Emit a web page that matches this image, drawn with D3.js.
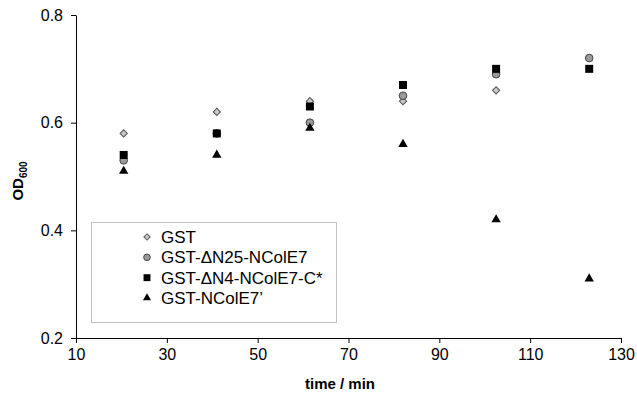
<!DOCTYPE html>
<html>
<head>
<meta charset="utf-8">
<script src="https://cdn.jsdelivr.net/npm/d3@7"></script>
<style>
  body { margin: 0; background: #fff; }
  text { font-family: "Liberation Sans", Arial, sans-serif; }
</style>
</head>
<body>
<svg width="637" height="398"></svg>
<script>
// sampling times (min) and OD600 readings per construct
const times = [20.5, 41, 61.5, 82, 102.5, 123];
const gst = [0.58, 0.62, 0.64, 0.64, 0.66, null];
const dN25 = [0.53, 0.58, 0.60, 0.65, 0.69, 0.72];
const dN4 = [0.54, 0.58, 0.63, 0.67, 0.70, 0.70];
const ncolE7 = [0.51, 0.54, 0.59, 0.56, 0.42, 0.31];

const seriesNames = ['GST', 'GST-\u0394N25-NColE7', 'GST-\u0394N4-NColE7-C*', 'GST-NColE7\u2019'];
const xTicks = [10, 30, 50, 70, 90, 110, 130];
const yTicks = [0.2, 0.4, 0.6, 0.8];

const margin = { top: 15, right: 16, bottom: 60, left: 76 };
const width = 637, height = 398;

const svg = d3.select('svg');
const x = d3.scaleLinear().domain([10, 130]).range([margin.left, width - margin.right]);
const y = d3.scaleLinear().domain([0.2, 0.8]).range([height - margin.bottom, margin.top]);

// marker styles, drawn in this order (later ones sit on top)
const markers = [
    { values: gst, type: d3.symbolSquare, size: 26, rotate: 45, fill: '#c8c8c8', stroke: '#555', sw: 1 },
    { values: dN25, type: d3.symbolCircle, size: 46, rotate: 0, fill: '#9a9a9a', stroke: '#444', sw: 1 },
    { values: dN4, type: d3.symbolSquare, size: 64, rotate: 0, fill: '#000', stroke: 'none', sw: 0 },
    { values: ncolE7, type: d3.symbolTriangle, size: 38, rotate: 0, fill: '#000', stroke: 'none', sw: 0 }
];

// axes
svg.append('g')
    .attr('transform', `translate(0,${y(0.2)})`)
    .call(d3.axisBottom(x).tickValues(xTicks).tickSize(5).tickSizeOuter(0).tickPadding(6))
    .call(g => g.selectAll('text').attr('font-size', 16).attr('fill', '#000'))
    .call(g => g.selectAll('line,path').attr('stroke', '#000'));

svg.append('g')
    .attr('transform', `translate(${x(10)},0)`)
    .call(d3.axisLeft(y).tickValues(yTicks).tickFormat(d3.format('.1f')).tickSize(5).tickSizeOuter(0).tickPadding(8))
    .call(g => g.selectAll('text').attr('font-size', 16).attr('fill', '#000'))
    .call(g => g.selectAll('line,path').attr('stroke', '#000'));

svg.append('text')
    .attr('x', 340).attr('y', 389)
    .attr('text-anchor', 'middle')
    .attr('font-size', 15).attr('font-weight', 'bold')
    .text('time / min');

const yl = svg.append('text')
    .attr('transform', 'translate(23,181) rotate(-90)')
    .attr('text-anchor', 'middle')
    .attr('font-size', 15).attr('font-weight', 'bold');
yl.append('tspan').text('OD');
yl.append('tspan').attr('font-size', 10).attr('dy', 4).text('600');

// points
markers.forEach(m => {
    const sym = d3.symbol().type(m.type).size(m.size);
    svg.append('g').selectAll('path')
        .data(times.map((t, i) => ({ t, v: m.values[i] })).filter(d => d.v != null))
        .enter().append('path')
        .attr('d', sym)
        .attr('transform', d => `translate(${x(d.t)},${y(d.v)}) rotate(${m.rotate})`)
        .attr('fill', m.fill)
        .attr('stroke', m.stroke)
        .attr('stroke-width', m.sw);
});

// legend
const legend = svg.append('g');
legend.append('rect')
    .attr('x', 91.5).attr('y', 222.5)
    .attr('width', 245).attr('height', 100)
    .attr('fill', '#fff').attr('stroke', '#c0c0c0');

const rowY = d3.scalePoint().domain(seriesNames).range([237, 298]);
seriesNames.forEach((name, i) => {
    const m = markers[i];
    legend.append('path')
        .attr('d', d3.symbol().type(m.type).size(m.size * 0.75))
        .attr('transform', `translate(147,${rowY(name)}) rotate(${m.rotate})`)
        .attr('fill', m.fill)
        .attr('stroke', m.stroke)
        .attr('stroke-width', m.sw);
    legend.append('text')
        .attr('x', 161).attr('y', rowY(name))
        .attr('dy', '0.35em')
        .attr('font-size', 17)
        .text(name);
});
</script>
</body>
</html>
